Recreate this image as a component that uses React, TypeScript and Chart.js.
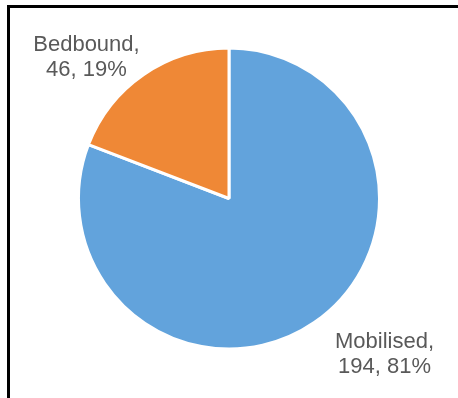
import React, { useEffect, useRef } from "react";
import { Chart, registerables } from "chart.js";

Chart.register(...registerables);

const categories = ["Mobilised", "Bedbound"];
const counts = [194, 46];
const percents = [81, 19];
const colors = ["#62a3dc", "#ef8836"];
// label anchor offsets (in units of the pie radius) relative to pie centre
const labelOffsets = [
  [1.033, 0.993],
  [-0.947, -0.98],
];

const labelPlugin = {
  id: "sliceLabels",
  afterDatasetsDraw(chart: any) {
    const ctx = chart.ctx;
    const meta = chart.getDatasetMeta(0);
    ctx.save();
    ctx.font = '22px "Liberation Sans", Arial, sans-serif';
    ctx.fillStyle = "#595959";
    ctx.textAlign = "center";
    ctx.textBaseline = "alphabetic";
    meta.data.forEach((arc: any, i: number) => {
      const { x, y, outerRadius } = arc.getProps(["x", "y", "outerRadius"], true);
      const lx = x + labelOffsets[i][0] * outerRadius;
      const ly = y + labelOffsets[i][1] * outerRadius;
      ctx.fillText(categories[i] + ",", lx, ly);
      ctx.fillText(counts[i] + ", " + percents[i] + "%", lx, ly + 25);
    });
    ctx.restore();
  },
};

export default function App() {
  const ref = useRef<HTMLCanvasElement>(null);
  useEffect(() => {
    const chart = new Chart(ref.current!, {
      type: "pie",
      data: {
        labels: categories,
        datasets: [
          {
            data: counts,
            backgroundColor: colors,
            borderColor: "#ffffff",
            borderWidth: 3,
            hoverOffset: 0,
            offset: 0,
          },
        ],
      },
      options: {
        responsive: false,
        animation: false,
        layout: { padding: { top: 46, bottom: 47, left: 77, right: 77 } },
        plugins: {
          legend: { display: false },
          tooltip: { enabled: false },
          title: { display: false },
        },
      },
      plugins: [labelPlugin],
    });
    return () => chart.destroy();
  }, []);
  return (
    <div
      style={{
        position: "fixed",
        left: 0,
        top: 0,
        width: 458,
        height: 398,
        background: "#fff",
        overflow: "hidden",
      }}
    >
      <canvas ref={ref} width={458} height={398} style={{ position: "absolute", left: 0, top: 0 }} />
      <div
        style={{
          position: "absolute",
          left: 7,
          top: 5,
          width: 470,
          height: 420,
          borderTop: "3px solid #000",
          borderLeft: "3px solid #000",
          boxSizing: "border-box",
          pointerEvents: "none",
        }}
      />
    </div>
  );
}
